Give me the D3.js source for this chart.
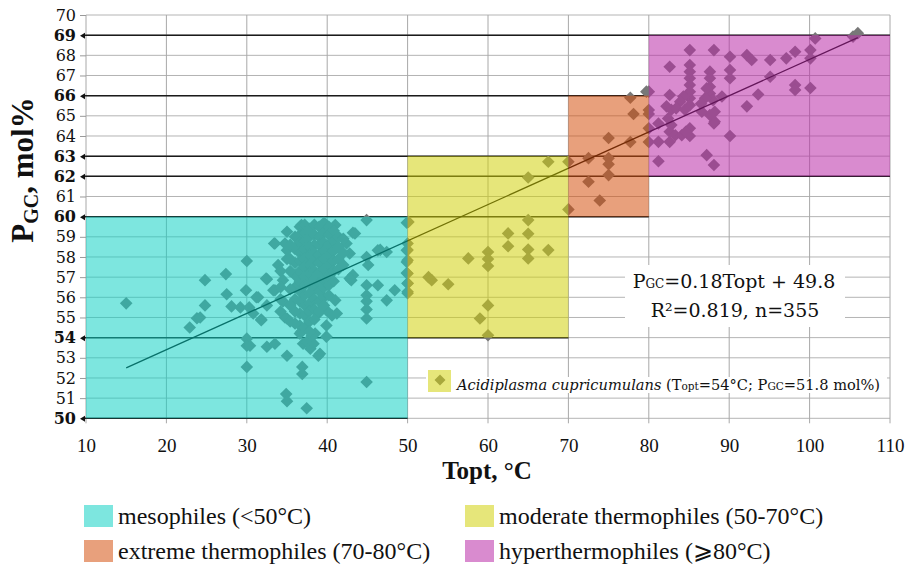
<!DOCTYPE html>
<html>
<head>
<meta charset="utf-8">
<script src="https://cdn.jsdelivr.net/npm/d3@7/dist/d3.min.js"></script>
<style>
  body { margin: 0; background: #fff; }
</style>
</head>
<body>
<div id="chart"></div>
<script>
// [Topt °C, PGC mol%], one array per group
var mesophiles = [
  [15,55.7],[22.9,54.5],[23.8,54.96],[24.8,56.85],[24.8,55.6],[24.2,55.0],[27.4,57.15],[27.5,56.15],
  [28.1,55.55],[29.2,55.5],[30,57.8],[29.9,56.35],[30.3,55.5],[31.4,56.0],[30.8,55.2],[31.8,54.9],
  [32.5,55.6],[32.5,56.9],[33.5,56.35],[33.4,58.67],[33.9,57.6],[35,59.25],[34.75,58.67],[35,57.9],
  [34.5,56.85],[34.5,55.8],[35,54.95],[30,53.95],[30,53.6],[32.5,53.55],[33.5,53.7],[30,52.55],
  [35,53.1],[36.9,52.55],[36.9,52.2],[34.9,51.2],[35,50.85],[37.45,50.5],[44.9,51.8],[38.5,54.2],
  [39.9,54.05],[37,53.7],[37.9,53.45],[38.9,53.1],[39.9,54.6],[38.9,55.2],[40.6,55.1],[43.2,59.2],
  [46.6,58.35],[47.4,58.25],[45.1,57.6],[43.2,57.1],[43,56.85],[44.9,56.6],[46.3,56.6],[44.9,56.1],
  [44.9,55.8],[44.9,55.4],[44.9,54.95],[47.4,55.85],[48.4,56.35],[44.9,59.83],[49.9,59.7],[49.9,58.33],
  [49.9,57.75],[49.9,57.2],[50,56.7],[50,56.2],[36.8,59.58],[39.9,59.58],[41,59.58],[43.45,59.17],
  [33.5,58.67],[35,58.33],[42.4,58.67],[42.8,58.17],[44.9,58.0],[46.3,58.33],[42.8,56.93],[41.0,55.85],
  [39.9,55.36],[41.2,55.2],[32.4,56.93],[33.3,56.35],[31.2,56.0],[31.8,54.86],[34.75,55.0],[36.8,54.3],
  [37.45,53.79],[38.3,53.7],[39.1,53.2],[38.1,54.1],[30.4,53.6],
  [36.0,59.0],[36.0,58.4],[36.0,57.7],[36.0,57.1],[36.0,56.5],[36.0,55.9],[36.0,55.3],[36.0,54.7],
  [36.6,59.5],[36.6,59.1],[36.6,58.7],[36.6,58.2],[36.6,57.8],[36.6,57.3],[36.6,56.8],[36.6,56.3],
  [36.6,55.8],[36.6,55.2],[36.6,54.6],[36.6,54.2],
  [37.2,59.6],[37.2,59.2],[37.2,58.8],[37.2,58.4],[37.2,57.9],[37.2,57.5],[37.2,57.0],[37.2,56.6],
  [37.2,56.1],[37.2,55.6],[37.2,55.1],[37.2,54.5],
  [37.8,59.4],[37.8,59.0],[37.8,58.5],[37.8,58.1],[37.8,57.6],[37.8,57.2],[37.8,56.7],[37.8,56.2],
  [37.8,55.7],[37.8,55.3],[37.8,54.8],[37.8,54.3],
  [38.4,59.6],[38.4,59.1],[38.4,58.6],[38.4,58.2],[38.4,57.8],[38.4,57.3],[38.4,56.9],[38.4,56.4],
  [38.4,55.9],[38.4,55.4],[38.4,54.9],
  [39.0,59.5],[39.0,59.0],[39.0,58.6],[39.0,58.1],[39.0,57.7],[39.0,57.2],[39.0,56.7],[39.0,56.3],
  [39.0,55.8],[39.0,55.3],
  [39.6,59.7],[39.6,59.2],[39.6,58.7],[39.6,58.3],[39.6,57.9],[39.6,57.4],[39.6,56.9],[39.6,56.5],
  [39.6,56.0],[39.6,55.6],
  [40.2,59.5],[40.2,59.1],[40.2,58.6],[40.2,58.1],[40.2,57.6],[40.2,57.1],[40.2,56.6],[40.2,56.1],
  [40.8,59.3],[40.8,58.8],[40.8,58.3],[40.8,57.8],[40.8,57.3],[40.8,56.8],
  [41.4,59.0],[41.4,58.5],[41.4,57.9],[41.4,57.4],[42.0,58.9],[42.0,58.2],[42.0,57.6],
  [35.4,58.6],[35.4,57.9],[35.4,57.3],[35.4,56.4],[35.4,55.6],[35.4,54.8],
  [34.2,57.3],[34.2,56.5],[34.2,55.9],[34.2,55.3]
];
var moderate = [
  [50.1,59.74],[50,58.67],[50,58.34],[50,57.84],[50,57.18],[50,56.69],[50,56.27],[52.6,57.0],
  [53,56.85],[55.05,56.65],[57.55,57.93],[60,58.25],[60,57.9],[60,57.55],[60,55.6],[59,54.95],
  [60,54.12],[62.5,59.17],[62.5,58.53],[65,59.83],[65,59.15],[65,58.37],[65,57.93],[67.5,58.34],
  [65,61.94],[67.5,62.72],[70,62.72],[70,60.36]
];
var extreme = [
  [72.5,62.9],[75,62.9],[75,62.6],[75,62.06],[72.5,61.73],[73.9,60.8],[77.7,63.7],[75,63.9],
  [77.7,65.9],[79.7,66.2],[78.1,65.09],[80,65.09],[80,63.7]
];
var hyper = [
  [85.1,68.26],[88.1,68.26],[82.6,67.43],[85.1,67.52],[85.1,67.19],[85.1,66.86],[85.1,66.53],[85.1,66.2],
  [85.1,65.87],[85.1,65.53],[84.3,65.96],[83.9,65.7],[87.6,67.19],[87.6,66.86],[87.6,66.44],[87.6,66.11],
  [88,65.78],[87,65.87],[88.2,65.2],[88.1,64.62],[90.1,67.93],[90.1,67.27],[90.1,66.86],[89.1,65.96],
  [92.2,68.01],[92.8,67.77],[95.1,67.77],[93.6,66.06],[92.2,65.47],[95.1,66.94],[97.1,67.85],[98.2,68.18],
  [98.2,66.53],[98.2,66.28],[100.1,66.38],[100.1,68.26],[100.1,67.85],[100.7,68.84],[105.4,68.93],[106,69.1],
  [90.1,64.0],[87.2,63.05],[88.1,62.56],[81.2,62.75],[80,66.2],[80,65.29],[80,64.38],[82.2,65.47],
  [82.8,65.3],[83.4,65.37],[81.2,64.62],[82.4,64.87],[82.8,64.54],[82.6,64.21],[83.3,64.04],[85.1,64.38],
  [85.1,64.0],[84.1,64.04],[84.6,64.21],[81.2,63.71],[82.6,63.71],[88.2,64.71],[87.6,65.04],[82.6,66.03],
  [84.5,65.3],[86.5,65.6],[86.6,65.2],[87.2,66.36]
];

var yTicks = [50,51,52,53,54,55,56,57,58,59,60,61,62,63,64,65,66,67,68,69,70];
var xTicks = [10,20,30,40,50,60,70,80,90,100,110];
// highlighted levels: [PGC, Topt where the line stops]
var boldLines = [[69,110],[66,80],[63,80],[62,110],[60,80],[54,70],[50,50]];
var boldTicks = boldLines.map(function(d){ return d[0]; });

var groupNames = ["mesophiles (<50°C)", "moderate thermophiles (50-70°C)",
                  "extreme thermophiles (70-80°C)", "hyperthermophiles (\u2A7E80°C)"];
var groupColors = ["#0fd1c4", "#d1d109", "#d5500d", "#b929a7"];
var groupTopt = [[10,50],[50,70],[70,80],[80,110]];
var groupGC = [[50,60],[54,63],[60,66],[62,69]];

var fitSlope = 0.18, fitIntercept = 49.8, fitRange = [15,106];

var width = 908, height = 565;
var svg = d3.select("#chart").append("svg")
    .attr("width", width)
    .attr("height", height)
    .style("font-family", "'DejaVu Serif', serif");

var x = d3.scaleLinear().domain([10,110]).range([86,890]);
var y = d3.scaleLinear().domain([50,70]).range([418.3,15]);

var grid = svg.append("g");
grid.selectAll("line.h")
    .data(yTicks)
    .enter().append("line")
    .attr("x1", x(10)).attr("x2", x(110))
    .attr("y1", function(d){ return y(d); })
    .attr("y2", function(d){ return y(d); })
    .attr("stroke", "#b4b4b4");
grid.selectAll("line.v")
    .data(xTicks)
    .enter().append("line")
    .attr("x1", function(d){ return x(d); })
    .attr("x2", function(d){ return x(d); })
    .attr("y1", y(70)).attr("y2", y(50) + 5)
    .attr("stroke", "#a8a8a8");

svg.append("g").selectAll("line")
    .data(boldLines)
    .enter().append("line")
    .attr("x1", x(10) - 3).attr("x2", function(d){ return x(d[1]); })
    .attr("y1", function(d){ return y(d[0]); })
    .attr("y2", function(d){ return y(d[0]); })
    .attr("stroke", "#1a1a1a")
    .attr("stroke-width", 1.5);

var diamond = "M0,-6.3L6.3,0L0,6.3L-6.3,0Z";
var allPoints = mesophiles.concat(moderate, extreme, hyper);
svg.append("g").selectAll("path")
    .data(allPoints)
    .enter().append("path")
    .attr("d", diamond)
    .attr("transform", function(d){ return "translate(" + x(d[0]) + "," + y(d[1]) + ")"; })
    .attr("fill", "#787878");

svg.append("line")
    .attr("x1", x(fitRange[0])).attr("y1", y(fitSlope*fitRange[0] + fitIntercept))
    .attr("x2", x(fitRange[1])).attr("y2", y(fitSlope*fitRange[1] + fitIntercept))
    .attr("stroke", "#000")
    .attr("stroke-width", 1.3);

svg.append("g").selectAll("rect")
    .data(groupColors)
    .enter().append("rect")
    .attr("x", function(d,i){ return x(groupTopt[i][0]); })
    .attr("width", function(d,i){ return x(groupTopt[i][1]) - x(groupTopt[i][0]); })
    .attr("y", function(d,i){ return y(groupGC[i][1]); })
    .attr("height", function(d,i){ return y(groupGC[i][0]) - y(groupGC[i][1]); })
    .attr("fill", function(d){ return d; })
    .attr("fill-opacity", 0.54);

// axes
var yAxis = d3.axisLeft(y).tickValues(yTicks).tickSize(6).tickPadding(4);
var yg = svg.append("g").attr("transform", "translate(" + x(10) + ",0)").call(yAxis);
yg.select(".domain").remove();
yg.selectAll(".tick line").attr("stroke", "#999");
yg.selectAll(".tick text")
    .style("font-family", "'DejaVu Serif', serif")
    .style("font-size", "16px")
    .style("font-weight", function(d){ return boldTicks.indexOf(d) >= 0 ? "bold" : "normal"; })
    .attr("fill", "#111");
yg.selectAll(".tick").filter(function(d){ return boldTicks.indexOf(d) >= 0; })
    .each(function(){
        d3.select(this).select("line").remove();
        d3.select(this).append("path")
            .attr("d", "M-6,0L-1,-3L-1,3Z")
            .attr("fill", "#111");
    });

var xAxis = d3.axisBottom(x).tickValues(xTicks).tickSize(0).tickPadding(20);
var xg = svg.append("g").attr("transform", "translate(0," + y(50) + ")").call(xAxis);
xg.select(".domain").remove();
xg.selectAll(".tick text")
    .style("font-family", "'Liberation Serif', serif")
    .style("font-size", "19px")
    .attr("fill", "#111");

// titles
var yt = svg.append("text")
    .attr("transform", "translate(33,170)rotate(-90)")
    .attr("text-anchor", "middle")
    .style("font-family", "'Liberation Serif', serif")
    .style("font-weight", "bold")
    .style("font-size", "31px")
    .attr("fill", "#111");
yt.append("tspan").text("P");
yt.append("tspan").attr("dy", 5).style("font-size", "20px").text("GC");
yt.append("tspan").attr("dy", -5).text(", mol%");

svg.append("text")
    .attr("x", 487).attr("y", 479)
    .attr("text-anchor", "middle")
    .style("font-family", "'Liberation Serif', serif")
    .style("font-weight", "bold")
    .style("font-size", "25px")
    .attr("fill", "#111")
    .text("Topt, °C");

// regression note
svg.append("rect").attr("x", 625).attr("y", 265).attr("width", 220).attr("height", 62).attr("fill", "#fff");
var t1 = svg.append("text").attr("x", 734).attr("y", 288).attr("text-anchor", "middle")
    .style("font-size", "19px").attr("fill", "#111");
t1.append("tspan").text("P");
t1.append("tspan").style("font-size", "12px").text("GC");
t1.append("tspan").text("=0.18Topt + 49.8");
svg.append("text").attr("x", 735).attr("y", 317).attr("text-anchor", "middle")
    .style("font-size", "19px").attr("fill", "#111")
    .text("R²=0.819, n=355");

// Acidiplasma note
svg.append("rect").attr("x", 426).attr("y", 377).attr("width", 461).attr("height", 16).attr("fill", "#fff");
svg.append("rect").attr("x", 428).attr("y", 370).attr("width", 23).attr("height", 22).attr("fill", "#fff");
svg.append("path").attr("d", "M0,-5.5L5.5,0L0,5.5L-5.5,0Z")
    .attr("transform", "translate(440,380)").attr("fill", "#787878");
svg.append("rect").attr("x", 428).attr("y", 370).attr("width", 23).attr("height", 22)
    .attr("fill", groupColors[1]).attr("fill-opacity", 0.54);
var t3 = svg.append("text").attr("x", 457).attr("y", 390)
    .style("font-size", "14.6px").attr("fill", "#111");
t3.append("tspan").style("font-style", "italic").text("Acidiplasma cupricumulans");
t3.append("tspan").text(" (T");
t3.append("tspan").style("font-size", "10.5px").text("opt");
t3.append("tspan").text("=54°C; P");
t3.append("tspan").style("font-size", "10.5px").text("GC");
t3.append("tspan").text("=51.8 mol%)");

// legend
var legendPos = [[84,505],[465,505],[84,540],[465,540]];
var lg = svg.append("g").selectAll("g")
    .data(groupNames)
    .enter().append("g")
    .attr("transform", function(d,i){ return "translate(" + legendPos[i][0] + "," + legendPos[i][1] + ")"; });
lg.append("rect")
    .attr("width", 29).attr("height", 22)
    .attr("fill", function(d,i){ return groupColors[i]; })
    .attr("fill-opacity", 0.54);
lg.append("text")
    .attr("x", 34).attr("y", 19)
    .style("font-family", "'Liberation Serif', serif")
    .style("font-size", "24px")
    .attr("fill", "#111")
    .text(function(d){ return d; });
</script>
</body>
</html>
